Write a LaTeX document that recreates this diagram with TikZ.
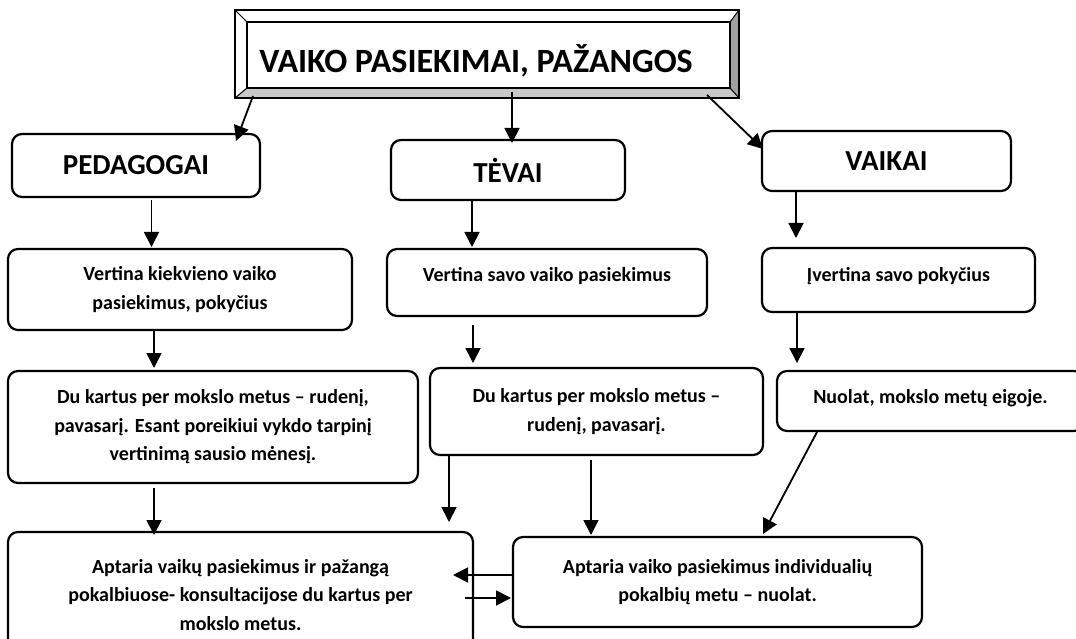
\documentclass[tikz,border=0pt]{standalone}
\usepackage{fontspec}
\setmainfont{Carlito}
\usetikzlibrary{calc, arrows.meta}
\definecolor{bevellight}{HTML}{C8C8C8}
\definecolor{beveldark}{HTML}{A0A0A0}

\begin{document}
\begin{tikzpicture}
  [x=1pt, y=-1pt,
   flow box/.style={draw, rounded corners=10pt, line width=2.2pt, outer sep=0pt, align=center, inner sep=0pt, font=\bfseries\fontsize{20}{28.5}\selectfont},
   head box/.style={flow box, font=\bfseries\fontsize{29}{34}\selectfont},
   flow arrow/.style={line width=1.8pt, -{Triangle[length=15pt,width=15pt]}}]

  \clip (0,0) rectangle (1076,639);

  % title frame with bevel
  \node [draw, line width=2.2pt, outer sep=0pt, minimum width=504pt, minimum height=88pt] (frame) at (487,54) {};
  \coordinate (in nw) at ($(frame.north west)+(12,12)$);
  \coordinate (in se) at ($(frame.south east)+(-9,-10)$);
  \coordinate (in ne) at (in se |- in nw);
  \coordinate (in sw) at (in nw |- in se);
  \fill [bevellight] (frame.south west) -- (in sw) -- (in se) -- (frame.south east) -- cycle;
  \fill [beveldark] (frame.south east) -- (in se) -- (in ne) -- (frame.north east) -- cycle;
  \draw [line width=1pt] (frame.north west) -- (in nw) (frame.north east) -- (in ne)
        (frame.south west) -- (in sw) (frame.south east) -- (in se);
  \draw [line width=1.8pt] (in nw) rectangle (in se);
  \draw [line width=2.2pt] (frame.north west) rectangle (frame.south east);
  \node [font=\bfseries\fontsize{34}{40}\selectfont, anchor=base] (title) at ($(frame.south)+(-11,-25)$) {VAIKO PASIEKIMAI, PAŽANGOS};

  % first row
  \node [head box, minimum width=248pt, minimum height=63pt] (ped) at (136,165.5) {PEDAGOGAI};
  \node [head box, minimum width=234pt, minimum height=60pt] (tev) at (508,170) {TĖVAI};
  \node [head box, minimum width=249pt, minimum height=60pt] (vai) at (886.5,161) {VAIKAI};

  % second row
  \node [flow box, minimum width=344pt, minimum height=81pt] (ver1) at (180,289.5) {Vertina kiekvieno vaiko\\pasiekimus, pokyčius};
  \node [flow box, minimum width=320pt, minimum height=67pt, text depth=17pt] (ver2) at (547,282.5) {Vertina savo vaiko pasiekimus};
  \node [flow box, minimum width=273pt, minimum height=64pt, text depth=12pt] (ivert) at (898.5,280) {Įvertina savo pokyčius};

  % third row
  \node [flow box, minimum width=410pt, minimum height=112pt] (du1) at (213,427) {Du kartus per mokslo metus – rudenį,\\pavasarį. Esant poreikiui vykdo tarpinį\\vertinimą sausio mėnesį.};
  \node [flow box, minimum width=333pt, minimum height=87pt] (du2) at (596.5,411.5) {Du kartus per mokslo metus –\\rudenį, pavasarį.};
  \node [flow box, minimum width=307pt, minimum height=60pt, text depth=10pt] (nuo) at (930.5,401) {Nuolat, mokslo metų eigoje.};

  % bottom row
  \node [flow box, minimum width=465pt, minimum height=126pt] (apt1) at (240.5,595) {Aptaria vaikų pasiekimus ir pažangą\\pokalbiuose- konsultacijose du kartus per\\mokslo metus.};
  \node [flow box, minimum width=409pt, minimum height=90pt] (apt2) at (717.5,582) {Aptaria vaiko pasiekimus individualių\\pokalbių metu – nuolat.};

  % arrows
  \draw [flow arrow] ($(frame.south west)+(18,-2)$) -- ($(ped.north east)+(-24,7)$);
  \draw [flow arrow] ($(frame.south)+(25,-6)$) -- ($(tev.north)+(4,3)$);
  \draw [flow arrow] ($(frame.south east)+(-32,-3)$) -- ($(vai.north west)+(1,18)$);
  \draw [flow arrow] ($(ped.south)+(15.5,3)$) -- ($(ver1.north)+(-28.5,-2)$);
  \draw [flow arrow] ($(tev.south)+(-36,0)$) -- ($(ver2.north)+(-75,-2)$);
  \draw [flow arrow] ($(vai.south)+(-90.5,0)$) -- ($(ivert.north)+(-102.5,-10)$);
  \draw [flow arrow] ($(ver1.south)+(-26,0)$) -- ($(du1.north)+(-59,-3)$);
  \draw [flow arrow] ($(ver2.south)+(-74,9)$) -- ($(du2.north)+(-123.5,-5)$);
  \draw [flow arrow] ($(ivert.south)+(-101.5,1)$) -- ($(nuo.north)+(-133.5,-8)$);
  \draw [flow arrow] ($(du1.south)+(-59,5)$) -- ($(apt1.north)+(-86.5,3)$);
  \draw [flow arrow] ($(du2.south west)+(19,0)$) -- ($(apt1.north east)+(-24,-10)$);
  \draw [flow arrow] ($(du2.south)+(-5.5,5)$) -- ($(apt2.north)+(-126.5,-2)$);
  \draw [flow arrow] ($(nuo.south west)+(40,1)$) -- ($(apt2.north)+(45.5,-3)$);
  \draw [flow arrow] ($(apt2.west)+(0,-7)$) -- ($(apt1.east)+(-20,-20)$);
  \draw [flow arrow] ($(apt1.east)+(-8,3)$) -- ($(apt2.west)+(-2,16)$);

\end{tikzpicture}
\end{document}
